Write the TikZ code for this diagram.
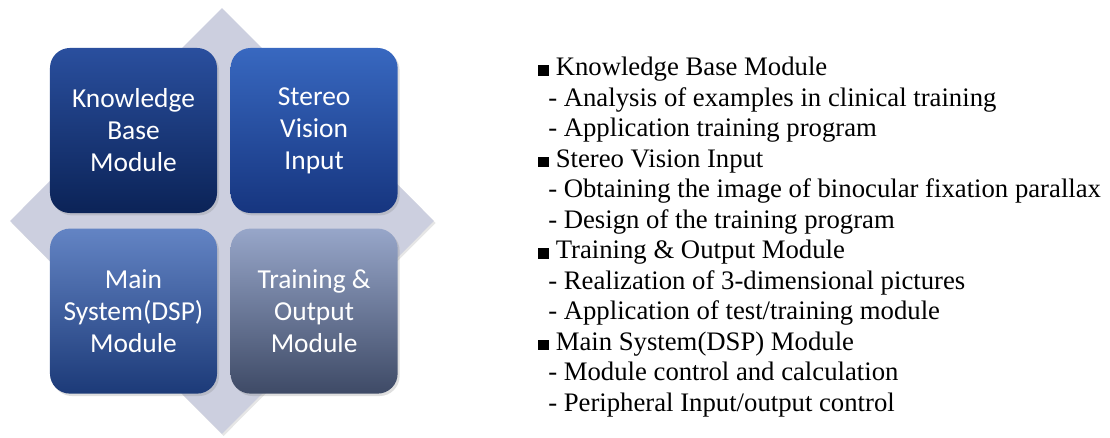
\documentclass[tikz,border=0pt]{standalone}
\usepackage{fontspec}
\setmainfont{Liberation Serif}
\newfontfamily\boxfont{Carlito}
\usepackage{xcolor}
\usetikzlibrary{positioning,shapes.geometric,shadows}

\definecolor{plate}{HTML}{CCCFDF}
\definecolor{kbtop}{HTML}{2A4F9E}
\definecolor{kbbot}{HTML}{0B2357}
\definecolor{svtop}{HTML}{3868C0}
\definecolor{svbot}{HTML}{16357F}
\definecolor{dsptop}{HTML}{6384C4}
\definecolor{dspbot}{HTML}{1C3A78}
\definecolor{outtop}{HTML}{97A6C9}
\definecolor{outbot}{HTML}{3E4A66}

\tikzset{
  module/.style={rectangle, rounded corners=0.5cm, minimum width=4.175cm, minimum height=4.125cm,
    inner sep=0pt, align=center, text=white, font=\boxfont\fontsize{19.5}{22.8}\selectfont,
    drop shadow={opacity=0.25, shadow xshift=0.05cm, shadow yshift=-0.06cm}},
  item/.style={anchor=north west, align=left, inner sep=0pt, font=\fontsize{19}{21.7}\selectfont}
}

\newcommand{\blt}{\rule{0.27cm}{0.27cm}\ }
\newcommand{\sub}{\hspace*{0.25cm}- }

\begin{document}
\begin{tikzpicture}[x=0.025cm, y=-0.025cm]
    \useasboundingbox (0,0) rectangle (1110,438);
    % grey plate behind the four modules
    \node[diamond, fill=plate, minimum width=10.6cm, minimum height=10.65cm, inner sep=0pt,
      drop shadow={opacity=0.2, shadow xshift=0.04cm, shadow yshift=-0.05cm}] (plate) at (222,221) {};
    \node[module, top color=kbtop, bottom color=kbbot] (kb) at (133.5,130.5) {Knowledge\\Base\\Module};
    \node[module, top color=svtop, bottom color=svbot, right=0.325cm of kb] (svi) {Stereo\\Vision\\Input};
    \node[module, top color=dsptop, bottom color=dspbot, below=0.375cm of kb] (dsp) {Main\\System(DSP)\\Module};
    \node[module, top color=outtop, bottom color=outbot, right=0.325cm of dsp] (out) {Training \&\\Output\\Module};

    % description of each module
    \node[item] (list) at (538,57) {%
      \blt Knowledge Base Module\\
      \sub Analysis of examples in clinical training\\
      \sub Application training program\\
      \blt Stereo Vision Input\\
      \sub Obtaining the image of binocular fixation parallax\\
      \sub Design of the training program\\
      \blt Training \& Output Module\\
      \sub Realization of 3-dimensional pictures\\
      \sub Application of test/training module\\
      \blt Main System(DSP) Module\\
      \sub Module control and calculation\\
      \sub Peripheral Input/output control};
\end{tikzpicture}
\end{document}
